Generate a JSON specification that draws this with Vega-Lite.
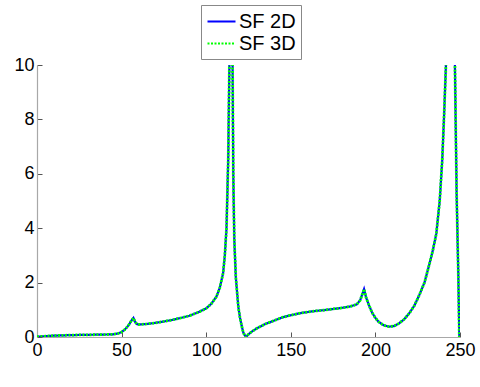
{
  "$schema": "https://vega.github.io/schema/vega-lite/v6.json",
  "width": 423,
  "height": 272,
  "autosize": {"type": "none"},
  "padding": {"left": 37, "top": 65, "right": 20, "bottom": 50},
  "background": "white",
  "config": {
    "view": {"stroke": null},
    "font": "Liberation Sans",
    "axis": {"grid": false, "labelFont": "Liberation Sans", "labelFontSize": 18, "labelColor": "black", "labelFlush": false, "labelOverlap": false, "domainColor": "#a8a8a8", "domainWidth": 1.2, "tickColor": "#555", "tickSize": -5, "title": null}
  },
  "data": {
    "values": [
      {"x": 0, "y": 0.01}, {"x": 5, "y": 0.03}, {"x": 10, "y": 0.05}, {"x": 20, "y": 0.07},
      {"x": 30, "y": 0.08}, {"x": 40, "y": 0.09}, {"x": 45, "y": 0.1}, {"x": 48, "y": 0.13},
      {"x": 50, "y": 0.18}, {"x": 52, "y": 0.28}, {"x": 54, "y": 0.42}, {"x": 56, "y": 0.62},
      {"x": 57, "y": 0.7}, {"x": 58, "y": 0.55}, {"x": 59, "y": 0.48}, {"x": 60, "y": 0.46},
      {"x": 65, "y": 0.48}, {"x": 70, "y": 0.52}, {"x": 75, "y": 0.57}, {"x": 80, "y": 0.63},
      {"x": 85, "y": 0.7}, {"x": 90, "y": 0.78}, {"x": 95, "y": 0.9}, {"x": 100, "y": 1.05},
      {"x": 103, "y": 1.22}, {"x": 106, "y": 1.48}, {"x": 108, "y": 1.8}, {"x": 110, "y": 2.35},
      {"x": 111, "y": 3.0}, {"x": 112, "y": 4.0}, {"x": 113, "y": 6.5}, {"x": 113.7, "y": 10},
      {"x": 114.3, "y": 30}, {"x": 114.9, "y": 30}, {"x": 115.6, "y": 10}, {"x": 116, "y": 6},
      {"x": 116.6, "y": 3.6}, {"x": 117.5, "y": 2.2}, {"x": 119, "y": 1.1}, {"x": 120, "y": 0.7},
      {"x": 121, "y": 0.4}, {"x": 122, "y": 0.15}, {"x": 123.5, "y": 0.0}, {"x": 125, "y": 0.1},
      {"x": 127, "y": 0.2}, {"x": 130, "y": 0.32}, {"x": 135, "y": 0.48}, {"x": 140, "y": 0.6},
      {"x": 145, "y": 0.72}, {"x": 150, "y": 0.8}, {"x": 155, "y": 0.87}, {"x": 160, "y": 0.92},
      {"x": 165, "y": 0.96}, {"x": 170, "y": 0.99}, {"x": 175, "y": 1.03}, {"x": 180, "y": 1.07},
      {"x": 185, "y": 1.12}, {"x": 189, "y": 1.2}, {"x": 191, "y": 1.35}, {"x": 193.3, "y": 1.76},
      {"x": 194.5, "y": 1.45}, {"x": 196, "y": 1.2}, {"x": 198, "y": 0.9}, {"x": 200, "y": 0.7},
      {"x": 202, "y": 0.55}, {"x": 205, "y": 0.43}, {"x": 208, "y": 0.38}, {"x": 211, "y": 0.4},
      {"x": 214, "y": 0.5}, {"x": 217, "y": 0.65}, {"x": 220, "y": 0.87}, {"x": 223, "y": 1.15},
      {"x": 226, "y": 1.55}, {"x": 229, "y": 2.0}, {"x": 232, "y": 2.7}, {"x": 234, "y": 3.2},
      {"x": 236, "y": 3.8}, {"x": 238, "y": 5.0}, {"x": 239.5, "y": 6.5}, {"x": 240.5, "y": 8.0},
      {"x": 241.7, "y": 10}, {"x": 243, "y": 40}, {"x": 245.5, "y": 40}, {"x": 247, "y": 10},
      {"x": 248, "y": 5.3}, {"x": 249, "y": 2.3}, {"x": 249.6, "y": 0}
    ]
  },
  "encoding": {
    "x": {"field": "x", "type": "quantitative", "scale": {"domain": [0, 250], "nice": false, "zero": false},
          "axis": {"values": [0, 50, 100, 150, 200, 250], "labelPadding": 9}},
    "y": {"field": "y", "type": "quantitative", "scale": {"domain": [0, 10], "nice": false},
          "axis": {"values": [0, 2, 4, 6, 8, 10], "labelPadding": 8}},
    "color": {"datum": "SF 2D", "type": "nominal", "title": null,
              "scale": {"domain": ["SF 2D", "SF 3D"], "range": ["#0000ff", "#00ff00"]},
              "legend": {"orient": "none", "legendX": 164, "legendY": -60, "symbolType": "M-1.4,0H1.4", "symbolSize": 400, "symbolStrokeWidth": 2.2,
                         "labelFontSize": 20, "labelFont": "Liberation Sans", "labelColor": "black", "labelOffset": 6,
                         "strokeColor": "#888", "fillColor": "white", "padding": 5, "rowPadding": 0, "symbolOffset": 4}},
    "strokeDash": {"datum": "SF 2D", "type": "nominal", "title": null,
                   "scale": {"domain": ["SF 2D", "SF 3D"], "range": [[1, 0], [2, 1.5]]},
                   "legend": {"orient": "none", "legendX": 164, "legendY": -60, "symbolType": "M-1.4,0H1.4", "symbolSize": 400, "symbolStrokeWidth": 2.2,
                         "labelFontSize": 20, "labelFont": "Liberation Sans", "labelColor": "black", "labelOffset": 6,
                         "strokeColor": "#888", "fillColor": "white", "padding": 5, "rowPadding": 0, "symbolOffset": 4}}
  },
  "layer": [
    {"mark": {"type": "line", "clip": true, "strokeWidth": 2.2}},
    {"mark": {"type": "line", "clip": true, "strokeWidth": 2.8},
     "encoding": {"color": {"datum": "SF 3D", "type": "nominal"}, "strokeDash": {"datum": "SF 3D", "type": "nominal"}}}
  ]
}
